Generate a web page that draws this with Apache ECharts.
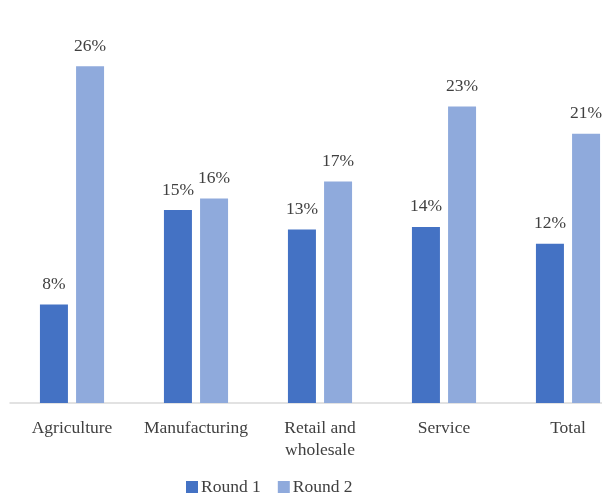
<!DOCTYPE html>
<html><head><meta charset="utf-8">
<script src="https://cdn.jsdelivr.net/npm/echarts@6/dist/echarts.min.js"></script>
<style>html,body{margin:0;padding:0;background:#fff}#c{width:602px;height:495px}</style>
</head><body><div id="c"></div>
<script>
const categories = ['Agriculture', 'Manufacturing', 'Retail and\nwholesale', 'Service', 'Total'];
const round1 = [7.6, 14.9, 13.4, 13.6, 12.3];
const round2 = [26.0, 15.8, 17.1, 22.9, 20.8];
const seriesNames = ['Round 1', 'Round 2'];
const FONT = 'Liberation Serif';
const chart = echarts.init(document.getElementById('c'));
const lbl = {show: true, position: 'top', distance: 11, color: '#404040', fontFamily: FONT, fontSize: 17.5,
  formatter: p => Math.round(p.value) + '%'};
chart.setOption({
  animation: false,
  textStyle: {fontFamily: FONT},
  grid: {left: 10, width: 620, top: 14.5, height: 388.5, outerBoundsMode: 'none', containLabel: false},
  legend: {top: 478, left: 186, padding: 0, itemWidth: 12, itemHeight: 12, itemGap: 17,
    textStyle: {fontFamily: FONT, fontSize: 17.5, color: '#404040', padding: [0, 0, 0, -2]}, icon: 'rect'},
  xAxis: {type: 'category', data: categories,
    axisLine: {lineStyle: {color: '#d9d9d9', width: 1.5}}, axisTick: {show: false},
    axisLabel: {color: '#404040', fontFamily: FONT, fontSize: 17.5, margin: 14, lineHeight: 22, interval: 0}},
  yAxis: {type: 'value', min: 0, max: 30, show: false, splitLine: {show: false}},
  series: [
    {name: seriesNames[0], type: 'bar', data: round1, barWidth: 28, barGap: '29%', itemStyle: {color: '#4472C4'}, label: lbl},
    {name: seriesNames[1], type: 'bar', data: round2, barWidth: 28, itemStyle: {color: '#8FAADC'}, label: lbl}
  ]
});
</script></body></html>
